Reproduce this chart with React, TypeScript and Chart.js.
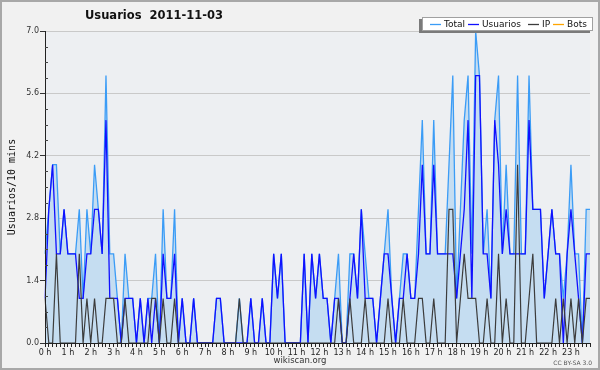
import React, { useEffect, useRef } from 'react';
import { Chart, registerables } from 'chart.js';

Chart.register(...registerables);

const titleText = 'Usuarios  2011-11-03';
const yAxisTitle = 'Usuarios/10 mins';
const footerText = 'wikiscan.org';
const licenseText = 'CC BY-SA 3.0';

const hourLabels = [
  '0 h', '1 h', '2 h', '3 h', '4 h', '5 h', '6 h', '7 h', '8 h', '9 h', '10 h', '11 h',
  '12 h', '13 h', '14 h', '15 h', '16 h', '17 h', '18 h', '19 h', '20 h', '21 h', '22 h', '23 h',
];
const minuteLabels = ['00', '10', '20', '30', '40', '50'];
const slotLabels = hourLabels.flatMap((_, h) => minuteLabels.map((m) => `${h}:${m}`));

const yTickValues = [0, 1.4, 2.8, 4.2, 5.6, 7.0];

const totalValues = [
  2, 3, 4, 4, 2, 3, 2, 2, 2, 3, 1, 3, 2, 4, 3, 2, 6, 2, 2, 1, 0, 2, 1, 1,
  0, 1, 0, 1, 1, 2, 0, 3, 1, 1, 3, 0, 1, 0, 0, 1, 0, 0, 0, 0, 0, 1, 1, 0,
  0, 0, 0, 1, 0, 0, 1, 0, 0, 1, 0, 0, 2, 1, 2, 0, 0, 0, 0, 0, 2, 0, 2, 1,
  2, 1, 1, 0, 1, 2, 0, 0, 2, 2, 1, 3, 2, 1, 1, 0, 1, 2, 3, 1, 0, 1, 2, 2,
  1, 1, 3, 5, 2, 2, 5, 2, 2, 2, 4, 6, 1, 3, 5, 6, 2, 7, 6, 2, 3, 1, 5, 6,
  2, 4, 2, 2, 6, 2, 2, 6, 3, 3, 3, 1, 2, 3, 2, 2, 1, 2, 4, 2, 2, 0, 3, 3,
];

const usuariosValues = [
  1, 3, 4, 2, 2, 3, 2, 2, 2, 1, 1, 2, 2, 3, 3, 2, 5, 1, 1, 1, 0, 1, 1, 1,
  0, 1, 0, 1, 0, 1, 0, 2, 1, 1, 2, 0, 1, 0, 0, 1, 0, 0, 0, 0, 0, 1, 1, 0,
  0, 0, 0, 0, 0, 0, 1, 0, 0, 1, 0, 0, 2, 1, 2, 0, 0, 0, 0, 0, 2, 0, 2, 1,
  2, 1, 1, 0, 1, 1, 0, 0, 1, 2, 1, 3, 1, 1, 1, 0, 1, 2, 2, 1, 0, 1, 1, 2,
  1, 1, 2, 4, 2, 2, 4, 2, 2, 2, 2, 2, 1, 2, 3, 5, 1, 6, 6, 2, 2, 1, 5, 4,
  2, 3, 2, 2, 2, 2, 2, 5, 3, 3, 3, 1, 2, 3, 2, 2, 0, 2, 3, 2, 1, 0, 2, 2,
];

const ipValues = [
  1, 0, 0, 2, 0, 0, 0, 0, 0, 2, 0, 1, 0, 1, 0, 0, 1, 1, 1, 0, 0, 1, 0, 0,
  0, 0, 0, 0, 1, 1, 0, 1, 0, 0, 1, 0, 0, 0, 0, 0, 0, 0, 0, 0, 0, 0, 0, 0,
  0, 0, 0, 1, 0, 0, 0, 0, 0, 0, 0, 0, 0, 0, 0, 0, 0, 0, 0, 0, 0, 0, 0, 0,
  0, 0, 0, 0, 0, 1, 0, 0, 1, 0, 0, 0, 1, 0, 0, 0, 0, 0, 1, 0, 0, 0, 1, 0,
  0, 0, 1, 1, 0, 0, 1, 0, 0, 0, 3, 3, 0, 1, 2, 1, 1, 1, 0, 0, 1, 0, 0, 2,
  0, 1, 0, 0, 4, 0, 0, 1, 2, 0, 0, 0, 0, 0, 1, 0, 1, 0, 1, 0, 1, 0, 1, 1,
];

const botsValues = [
  0, 0, 0, 0, 0, 0, 0, 0, 0, 0, 0, 0, 0, 0, 0, 0, 0, 0, 0, 0, 0, 0, 0, 0,
  0, 0, 0, 0, 0, 0, 0, 0, 0, 0, 0, 0, 0, 0, 0, 0, 0, 0, 0, 0, 0, 0, 0, 0,
  0, 0, 0, 0, 0, 0, 0, 0, 0, 0, 0, 0, 0, 0, 0, 0, 0, 0, 0, 0, 0, 0, 0, 0,
  0, 0, 0, 0, 0, 0, 0, 0, 0, 0, 0, 0, 0, 0, 0, 0, 0, 0, 0, 0, 0, 0, 0, 0,
  0, 0, 0, 0, 0, 0, 0, 0, 0, 0, 0, 0, 0, 0, 0, 0, 0, 0, 0, 0, 0, 0, 0, 0,
  0, 0, 0, 0, 0, 0, 0, 0, 0, 0, 0, 0, 0, 0, 0, 0, 0, 0, 0, 0, 0, 0, 0, 0,
];

const SANS = 'DejaVu Sans';
const legendLineStarts = [430, 468, 528, 553];

const decorPlugin = {
  id: 'decor',
  beforeDraw(chart: any) {
    const { ctx, width, height, chartArea } = chart;
    ctx.save();
    ctx.fillStyle = '#f1f1f1';
    ctx.fillRect(0, 0, width, height);
    ctx.fillStyle = '#edeff2';
    ctx.fillRect(chartArea.left, chartArea.top, chartArea.right - chartArea.left, chartArea.bottom - chartArea.top);
    ctx.restore();
  },
  afterDatasetsDraw(chart: any) {
    const { ctx, chartArea } = chart;
    const y = chart.scales.y;
    ctx.save();
    ctx.strokeStyle = '#222';
    ctx.lineWidth = 1;
    ctx.beginPath();
    ctx.moveTo(chartArea.left + 0.5, chartArea.top);
    ctx.lineTo(chartArea.left + 0.5, chartArea.bottom + 0.5);
    ctx.lineTo(chartArea.right, chartArea.bottom + 0.5);
    ctx.stroke();
    // minor ticks on y axis
    ctx.strokeStyle = '#444';
    ctx.beginPath();
    for (let k = 1; k < 20; k++) {
      if (k % 4 === 0) continue;
      const py = Math.round(y.getPixelForValue(k * 0.35)) + 0.5;
      ctx.moveTo(chartArea.left, py);
      ctx.lineTo(chartArea.left + 3, py);
    }
    ctx.stroke();
    ctx.restore();
  },
  afterDraw(chart: any) {
    const { ctx, width, height } = chart;
    ctx.save();
    // title
    ctx.fillStyle = '#111';
    ctx.font = `bold 11.5px "${SANS}"`;
    ctx.textBaseline = 'middle';
    ctx.textAlign = 'left';
    ctx.fillText(titleText, 85, 16);

    // legend box
    const bx = 422, by = 17, bw = 171, bh = 14;
    ctx.fillStyle = '#7a7a7a';
    ctx.fillRect(bx - 3, by + 2, bw, bh);
    ctx.fillStyle = '#ffffff';
    ctx.fillRect(bx, by, bw, bh);
    ctx.strokeStyle = '#a0a0a0';
    ctx.lineWidth = 1;
    ctx.strokeRect(bx + 0.5, by + 0.5, bw - 1, bh - 1);
    ctx.font = `9px "${SANS}"`;
    ctx.textBaseline = 'middle';
    chart.data.datasets.forEach((ds: any, i: number) => {
      const x0 = legendLineStarts[i];
      const ly = by + 7.5;
      ctx.strokeStyle = ds.borderColor;
      ctx.lineWidth = 1.3;
      ctx.beginPath();
      ctx.moveTo(x0, ly);
      ctx.lineTo(x0 + 11, ly);
      ctx.stroke();
      ctx.fillStyle = '#111';
      ctx.fillText(ds.label, x0 + 14, ly);
    });

    // footer
    ctx.fillStyle = '#333';
    ctx.font = `8.5px "${SANS}"`;
    ctx.textAlign = 'center';
    ctx.fillText(footerText, 300, 361);
    ctx.font = `6px "${SANS}"`;
    ctx.textAlign = 'right';
    ctx.fillStyle = '#555';
    ctx.fillText(licenseText, 592, 363);

    // frame
    ctx.strokeStyle = '#a8a8a8';
    ctx.lineWidth = 2;
    ctx.strokeRect(1, 1, width - 2, height - 2);
    ctx.restore();
  },
};

export default function App() {
  const canvasRef = useRef<HTMLCanvasElement | null>(null);

  useEffect(() => {
    document.body.style.margin = '0';
    const canvas = canvasRef.current;
    if (!canvas) return;
    const chart = new Chart(canvas, {
      type: 'line',
      data: {
        labels: slotLabels,
        datasets: [
          {
            label: 'Total',
            data: totalValues,
            borderColor: '#3b9cf6',
            backgroundColor: 'rgb(197,221,241)',
            borderWidth: 1.3,
            fill: 'origin',
            pointRadius: 0,
            tension: 0,
            order: 3,
          },
          {
            label: 'Usuarios',
            data: usuariosValues,
            borderColor: '#1010ff',
            borderWidth: 1.3,
            fill: false,
            pointRadius: 0,
            tension: 0,
            order: 2,
          },
          {
            label: 'IP',
            data: ipValues,
            borderColor: '#3c3c3c',
            borderWidth: 1.2,
            fill: false,
            pointRadius: 0,
            tension: 0,
            order: 1,
          },
          {
            label: 'Bots',
            data: botsValues,
            borderColor: '#ffa500',
            borderWidth: 1.2,
            fill: false,
            pointRadius: 0,
            tension: 0,
            order: 4,
          },
        ],
      },
      options: {
        responsive: false,
        animation: false,
        devicePixelRatio: 1,
        layout: { padding: { top: 31, right: 10, left: 0, bottom: 0 } },
        plugins: {
          legend: { display: false },
          title: { display: false },
          tooltip: { enabled: false },
        },
        scales: {
          x: {
            type: 'category',
            offset: false,
            grid: {
              display: true,
              drawOnChartArea: false,
              drawTicks: true,
              tickLength: 4,
              tickColor: '#222',
            },
            border: { display: true, color: '#222' },
            ticks: {
              autoSkip: false,
              maxRotation: 0,
              minRotation: 0,
              padding: 1,
              color: '#222',
              font: { family: SANS, size: 8 },
              callback: (_v: any, i: number) => (i % 6 === 0 ? hourLabels[i / 6] : ''),
            },
            afterFit: (s: any) => {
              s.height = 27;
            },
          },
          y: {
            type: 'linear',
            min: 0,
            max: 7,
            afterBuildTicks: (s: any) => {
              s.ticks = yTickValues.map((v) => ({ value: v }));
            },
            grid: {
              color: '#c9c9c9',
              tickColor: '#333',
              tickLength: 5,
              drawTicks: true,
            },
            border: { display: true, color: '#222' },
            ticks: {
              padding: 1,
              color: '#333',
              font: { family: SANS, size: 8 },
              callback: (v: any) => Number(v).toFixed(1),
            },
            title: {
              display: true,
              text: yAxisTitle,
              color: '#111',
              font: { family: 'DejaVu Sans Mono', size: 10 },
              padding: { top: 6, bottom: 0 },
            },
            afterFit: (s: any) => {
              s.width = 45;
            },
          },
        },
      },
      plugins: [decorPlugin],
    });
    return () => chart.destroy();
  }, []);

  return (
    <div style={{ width: 600, height: 370 }}>
      <canvas ref={canvasRef} width={600} height={370} style={{ display: 'block' }} />
    </div>
  );
}
